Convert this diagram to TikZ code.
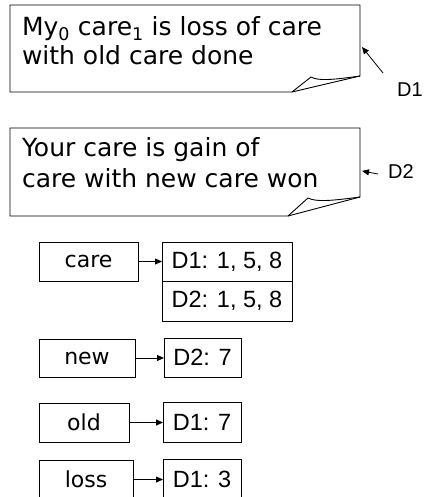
\documentclass[tikz,border=0pt]{standalone}
\usepackage{fontspec}
\setmainfont{DejaVu Sans}
\newfontfamily\arialf{Liberation Sans}
\usetikzlibrary{arrows.meta}
\tikzset{
  comic/.style={font=\fontsize{25}{30}\selectfont, inner sep=0pt, outer sep=0pt},
  arialtxt/.style={font=\arialf\fontsize{20}{24}\selectfont},
  wbox/.style={draw, line width=0.9pt, inner sep=0pt, outer sep=0pt, anchor=north west, font=\fontsize{22}{26}\selectfont},
  pbox/.style={draw, line width=0.9pt, inner sep=0pt, outer sep=0pt, anchor=north west, font=\arialf\fontsize{23.5}{26}\selectfont},
  outline/.style={draw, line width=0.9pt},
  arr/.style={-{Triangle[length=7pt,width=6pt]}, line width=0.8pt},
}
\begin{document}
\begin{tikzpicture}[x=1pt,y=-1pt]
\useasboundingbox (0,0) rectangle (428,497);
\begin{scope}
\clip (0,0) rectangle (428,497);
% note 1
\path[outline] (10,5) -- (360,5) -- (360,76) -- (292,92) -- (10,92) -- cycle;
\path[outline] (292,92) -- (311,77) .. controls (318,81) and (332,80) .. (360,76);
\node[comic, anchor=base west] (t1a) at (22,36) {My\textsubscript{0} care\textsubscript{1} is loss of care};
\node[comic, anchor=base west] (t1b) at (22,65) {with old care done};
\node[arialtxt] (d1) at (410,90) {D1};
\coordinate (d1tail) at (383,73);
\coordinate (d1tip) at (362,47);
\draw[arr] (d1tail) -- (d1tip);
% note 2
\path[outline] (10,128) -- (360,128) -- (360,197) -- (288,216) -- (10,216) -- cycle;
\path[outline] (288,216) -- (308,198) .. controls (316,202) and (330,201) .. (360,197);
\node[comic, anchor=base west] (t2a) at (22,157) {Your care is gain of};
\node[comic, anchor=base west] (t2b) at (22,187) {care with new care won};
\node[arialtxt] (d2) at (401,172) {D2};
\coordinate (d2tail) at (378,174);
\coordinate (d2tip) at (362,171);
\draw[arr] (d2tail) -- (d2tip);
% index
\node[wbox, minimum width=99, minimum height=39] (care) at (39,242) {care};
\node[pbox, minimum width=130, minimum height=39] (p1) at (162,242) {D1: 1, 5, 8};
\node[pbox, minimum width=130, minimum height=40] (p2) at (162,281) {D2: 1, 5, 8};
\draw[arr] (care.east) -- (p1.west);
\node[wbox, minimum width=96, minimum height=38] (new) at (39,339) {new};
\node[pbox, minimum width=77, minimum height=39] (p3) at (164,338) {D2: 7};
\draw[arr] (new.east) -- (new.east -| p3.west);
\node[wbox, minimum width=90, minimum height=39] (old) at (39,403) {old};
\node[pbox, minimum width=78, minimum height=40] (p4) at (163,402) {D1: 7};
\draw[arr] (old.east) -- (old.east -| p4.west);
\node[wbox, minimum width=94, minimum height=39] (loss) at (39,460) {loss};
\node[pbox, minimum width=78, minimum height=40] (p5) at (163,459) {D1: 3};
\draw[arr] (loss.east) -- (loss.east -| p5.west);
\end{scope}
\end{tikzpicture}
\end{document}
